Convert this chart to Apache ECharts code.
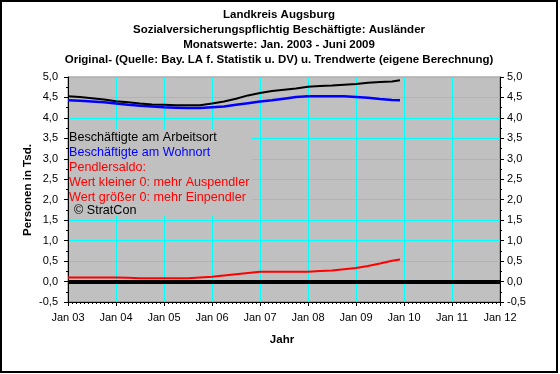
<!DOCTYPE html>
<html>
<head>
<meta charset="utf-8">
<script src="https://cdn.jsdelivr.net/npm/echarts@6/dist/echarts.min.js"></script>
<style>
html,body{margin:0;padding:0;background:#fff;}
#chart{width:560px;height:374px;}
</style>
</head>
<body>
<div id="chart"></div>
<script>
// Month index: 0 = Jan 2003
const xTickLabels = ['Jan 03','Jan 04','Jan 05','Jan 06','Jan 07','Jan 08','Jan 09','Jan 10','Jan 11','Jan 12'];
const months = [0,3,6,9,12,15,18,21,24,27,30,33,36,39,42,45,48,51,54,57,60,63,66,69,72,75,78,81,83];
const arbeitsort = [4.53,4.51,4.48,4.45,4.41,4.38,4.35,4.33,4.32,4.31,4.31,4.31,4.35,4.40,4.47,4.55,4.61,4.66,4.69,4.72,4.76,4.78,4.79,4.81,4.83,4.86,4.88,4.89,4.92];
const wohnort =    [4.43,4.42,4.40,4.38,4.35,4.32,4.30,4.28,4.26,4.25,4.24,4.24,4.26,4.28,4.32,4.36,4.40,4.43,4.47,4.51,4.53,4.53,4.53,4.53,4.51,4.49,4.46,4.44,4.43];
const saldo =      [0.10,0.10,0.10,0.10,0.10,0.09,0.08,0.08,0.08,0.08,0.08,0.10,0.12,0.15,0.18,0.21,0.24,0.24,0.24,0.24,0.24,0.26,0.27,0.30,0.33,0.38,0.44,0.51,0.54];
const titleLines = ['Landkreis Augsburg','Sozialversicherungspflichtig Beschäftigte: Ausländer','Monatswerte: Jan. 2003 - Juni 2009','Original- (Quelle: Bay. LA f. Statistik u. DV) u. Trendwerte (eigene Berechnung)'];
const legendLines = [
  {text:'Beschäftigte am Arbeitsort', color:'#000000'},
  {text:'Beschäftigte am Wohnort', color:'#0000FF'},
  {text:'Pendlersaldo:', color:'#FF0000'},
  {text:'Wert kleiner 0: mehr Auspendler', color:'#FF0000'},
  {text:'Wert größer 0: mehr Einpendler', color:'#FF0000'}
];
const copyright = '© StratCon';

const FONT = '"Liberation Sans", Arial, sans-serif';
const pair = (vals) => months.map((m, i) => [m, vals[i]]);
const fmtY = v => v.toFixed(1).replace('.', ',');

const chart = echarts.init(document.getElementById('chart'), null, {renderer:'canvas'});

const graphics = [];
graphics.push({type:'rect', shape:{x:1,y:1,width:556,height:371}, style:{fill:null, stroke:'#000', lineWidth:2}, z:100});
titleLines.forEach((t, i) => {
  graphics.push({type:'text', x:279, y:15 + i*15, style:{text:t, font:'bold 11.5px ' + FONT, fill:'#000', align:'center', verticalAlign:'middle'}, z:10});
});
graphics.push({type:'rect', shape:{x:69,y:129,width:183,height:87}, style:{fill:'#C0C0C0'}, z:10});
legendLines.forEach((l, i) => {
  graphics.push({type:'text', x:69, y:138 + i*14.9, style:{text:l.text, font:'12.6px ' + FONT, fill:l.color, align:'left', verticalAlign:'middle'}, z:11});
});
graphics.push({type:'text', x:74, y:211, style:{text:copyright, font:'12.6px ' + FONT, fill:'#000', align:'left', verticalAlign:'middle'}, z:11});
graphics.push({type:'text', x:28, y:190, rotation:Math.PI/2, style:{text:'Personen in Tsd.', font:'bold 11.5px ' + FONT, fill:'#000', align:'center', verticalAlign:'middle'}, z:10});
graphics.push({type:'text', x:282, y:340, style:{text:'Jahr', font:'bold 11.5px ' + FONT, fill:'#000', align:'center', verticalAlign:'middle'}, z:10});

const yCommon = {
  type:'value', min:-0.5, max:5, interval:0.5,
  axisLine:{show:true, lineStyle:{color:'#000', width:1}},
  axisTick:{show:true, length:4, lineStyle:{color:'#000'}},
  minorTick:{show:true, splitNumber:2, length:2, lineStyle:{color:'#000'}},
  axisLabel:{color:'#000', fontFamily:FONT, fontSize:11, formatter:fmtY}
};

chart.setOption({
  animation:false,
  backgroundColor:'#ffffff',
  grid:{left:68, right:60, top:77, bottom:72, show:true, backgroundColor:'#C0C0C0', borderColor:'#808080', borderWidth:1},
  xAxis:{
    type:'value', min:0, max:108, interval:12,
    axisLine:{show:true, onZero:false, lineStyle:{color:'#000', width:1}},
    axisTick:{show:true, length:4, lineStyle:{color:'#000'}},
    minorTick:{show:true, splitNumber:12, length:2, lineStyle:{color:'#000'}},
    splitLine:{show:true, lineStyle:{color:'#00FFFF', width:1}},
    axisLabel:{color:'#000', fontFamily:FONT, fontSize:11, margin:10, formatter:v => xTickLabels[Math.round(v/12)]}
  },
  yAxis:[
    Object.assign({}, yCommon, {position:'left', splitLine:{show:true, lineStyle:{color:'#00FFFF', width:1}}, axisLabel:Object.assign({}, yCommon.axisLabel, {margin:10})}),
    Object.assign({}, yCommon, {position:'right', splitLine:{show:false}, axisLabel:Object.assign({}, yCommon.axisLabel, {margin:7})})
  ],
  graphic:graphics,
  series:[
    {name:'Beschäftigte am Wohnort', type:'line', yAxisIndex:0, data:pair(wohnort), showSymbol:false, lineStyle:{color:'#0000FF', width:2.5}, z:3},
    {name:'Beschäftigte am Arbeitsort', type:'line', yAxisIndex:0, data:pair(arbeitsort), showSymbol:false, lineStyle:{color:'#000000', width:2}, z:4,
      markLine:{silent:true, symbol:['none','none'], label:{show:false}, lineStyle:{color:'#000', width:4, type:'solid'}, data:[{yAxis:0}]}},
    {name:'Pendlersaldo', type:'line', yAxisIndex:0, data:pair(saldo), showSymbol:false, lineStyle:{color:'#FF0000', width:2}, z:5}
  ]
});
</script>
</body>
</html>
